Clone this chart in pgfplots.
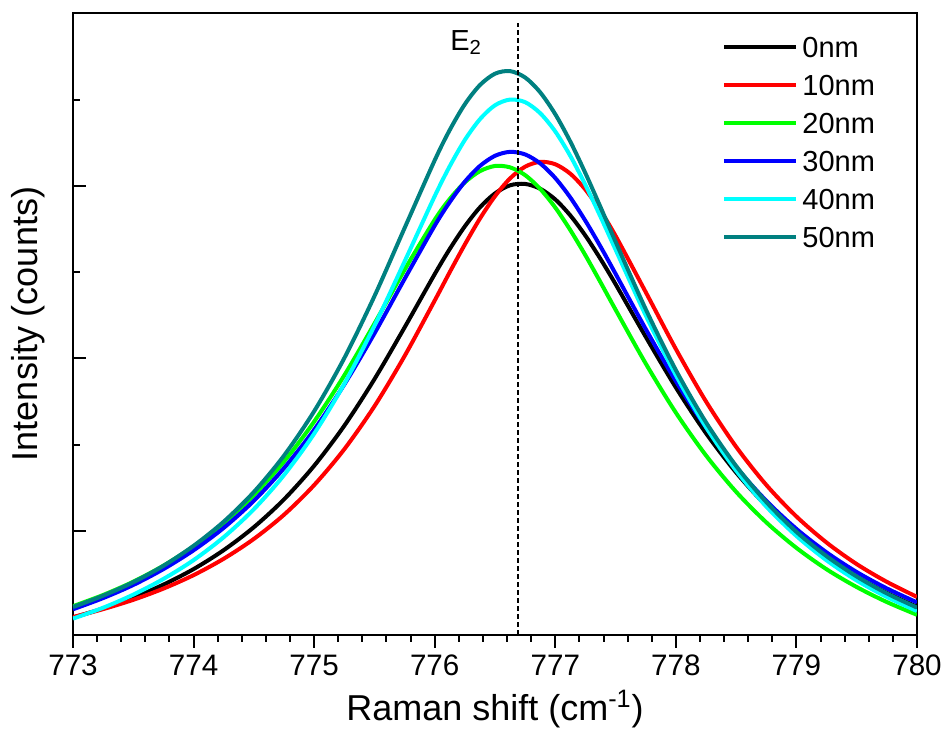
\documentclass[border=0pt]{standalone}
\usepackage{pgfplots}
\pgfplotsset{compat=1.18}
\usepackage{pgfplotstable}
\usepackage{fontspec}
\setmainfont{Liberation Sans}
\definecolor{cgreen}{RGB}{0,255,0}
\definecolor{ccyan}{RGB}{0,255,255}
\definecolor{cteal}{RGB}{0,128,128}
\definecolor{cblue}{RGB}{0,0,255}
\definecolor{cred}{RGB}{255,0,0}

% 0 nm
\pgfplotstableread{
x y
773 0.498
773.25 0.551
773.5 0.614
773.75 0.689
774 0.779
774.25 0.889
774.5 1.022
774.75 1.183
775 1.378
775.25 1.610
775.5 1.880
775.75 2.180
776 2.489
776.125 2.635
776.25 2.766
776.375 2.876
776.5 2.957
776.625 3.004
776.75 3.012
776.875 2.984
777 2.922
777.125 2.829
777.25 2.712
777.375 2.577
777.5 2.431
777.75 2.126
778 1.832
778.25 1.567
778.5 1.339
778.75 1.146
779 0.984
779.25 0.848
779.5 0.735
779.75 0.641
780 0.561
}\dataA

% 10 nm
\pgfplotstableread{
x y
773 0.501
773.25 0.547
773.5 0.601
773.75 0.666
774 0.744
774.25 0.839
774.5 0.954
774.75 1.094
775 1.266
775.25 1.474
775.5 1.723
775.75 2.014
776 2.336
776.125 2.501
776.25 2.661
776.375 2.811
776.5 2.941
776.625 3.044
776.75 3.112
776.875 3.140
777 3.126
777.125 3.071
777.25 2.979
777.375 2.856
777.5 2.711
777.75 2.385
778 2.055
778.25 1.751
778.5 1.488
778.75 1.267
779 1.084
779.25 0.933
779.5 0.808
779.75 0.705
780 0.618
}\dataB

% 20 nm
\pgfplotstableread{
x y
773 0.564
773.25 0.629
773.5 0.706
773.75 0.799
774 0.911
774.25 1.045
774.5 1.208
774.75 1.402
775 1.634
775.25 1.902
775.5 2.202
775.75 2.514
776 2.804
776.125 2.925
776.25 3.021
776.375 3.086
776.5 3.116
776.625 3.108
776.75 3.063
776.875 2.983
777 2.875
777.125 2.744
777.25 2.598
777.375 2.442
777.5 2.283
777.75 1.971
778 1.686
778.25 1.438
778.5 1.227
778.75 1.050
779 0.902
779.25 0.778
779.5 0.675
779.75 0.588
780 0.514
}\dataC

% 30 nm
\pgfplotstableread{
x y
773 0.546
773.25 0.611
773.5 0.687
773.75 0.779
774 0.888
774.25 1.018
774.5 1.175
774.75 1.364
775 1.587
775.25 1.849
775.5 2.145
775.75 2.461
776 2.770
776.125 2.907
776.25 3.025
776.375 3.116
776.5 3.175
776.625 3.198
776.75 3.183
776.875 3.131
777 3.046
777.125 2.933
777.25 2.798
777.375 2.649
777.5 2.491
777.75 2.171
778 1.869
778.25 1.601
778.5 1.370
778.75 1.175
779 1.012
779.25 0.876
779.5 0.762
779.75 0.667
780 0.586
}\dataD

% 40 nm
\pgfplotstableread{
x y
773 0.492
773.25 0.555
773.5 0.631
773.75 0.722
774 0.831
774.25 0.964
774.5 1.126
774.75 1.324
775 1.564
775.25 1.853
775.5 2.189
775.75 2.562
776 2.941
776.125 3.115
776.25 3.267
776.375 3.387
776.5 3.468
776.625 3.501
776.75 3.486
776.875 3.422
777 3.316
777.125 3.174
777.25 3.006
777.375 2.822
777.5 2.631
777.75 2.250
778 1.903
778.25 1.602
778.5 1.350
778.75 1.142
779 0.971
779.25 0.830
779.5 0.713
779.75 0.617
780 0.536
}\dataE

% 50 nm
\pgfplotstableread{
x y
773 0.559
773.25 0.625
773.5 0.703
773.75 0.798
774 0.914
774.25 1.054
774.5 1.226
774.75 1.437
775 1.694
775.25 2.002
775.5 2.361
775.75 2.756
776 3.149
776.125 3.325
776.25 3.474
776.375 3.585
776.5 3.651
776.625 3.666
776.75 3.629
776.875 3.543
777 3.416
777.125 3.257
777.25 3.074
777.375 2.878
777.5 2.677
777.75 2.286
778 1.933
778.25 1.630
778.5 1.377
778.75 1.168
779 0.995
779.25 0.854
779.5 0.736
779.75 0.638
780 0.556
}\dataF

\begin{document}
\begin{tikzpicture}
\begin{axis}[
  width=422pt, height=311pt, scale only axis,
  xmin=773, xmax=780, ymin=0.397, ymax=4.003,
  xtick={773,774,...,780}, minor x tick num=4,
  ytick={1,2,3}, minor ytick={1.5,2.5,3.5}, yticklabels={},
  xtick pos=left, ytick pos=left,
  xtick align=outside, ytick align=inside,
  major tick length=6.5pt, minor tick length=3.5pt,
  axis line style={line width=1pt},
  every tick/.style={line width=1pt, black},
  tick label style={font=\fontsize{14.8}{17}\selectfont},
  /pgf/number format/assume math mode=true,
  /pgf/number format/1000 sep={},
  xlabel={Raman shift (cm\textsuperscript{-1})},
  ylabel={Intensity (counts)},
  label style={font=\fontsize{18}{21}\selectfont},
  xlabel style={at={(axis description cs:0.5,-0.1367)}, anchor=base},
  ylabel style={at={(axis description cs:-0.04265,0.5)}, anchor=base},
  legend style={at={(axis description cs:0.769,0.969)}, anchor=north west,
    draw=none, fill=none, inner sep=0pt, row sep=4.5pt,
    font=\fontsize{14.5}{17}\selectfont,
    nodes={inner sep=2pt, text height=10.5pt, text depth=0pt}},
  legend cell align=left,
  legend image code/.code={\draw[#1, line width=2pt] (0pt,0pt) -- (36pt,0pt);},
]
\addplot[black, line width=2pt, smooth] table[x=x,y=y] {\dataA};
\addlegendentry{0nm}
\addplot[cred, line width=2pt, smooth] table[x=x,y=y] {\dataB};
\addlegendentry{10nm}
\addplot[cgreen, line width=2pt, smooth] table[x=x,y=y] {\dataC};
\addlegendentry{20nm}
\addplot[cblue, line width=2pt, smooth] table[x=x,y=y] {\dataD};
\addlegendentry{30nm}
\addplot[ccyan, line width=2pt, smooth] table[x=x,y=y] {\dataE};
\addlegendentry{40nm}
\addplot[cteal, line width=2pt, smooth] table[x=x,y=y] {\dataF};
\addlegendentry{50nm}
\addplot[black, line width=0.9pt, dash pattern=on 2.5pt off 1.5pt, forget plot] coordinates {(776.69,0.397) (776.69,3.945)};
\node[anchor=base west, inner sep=0pt, font=\fontsize{14.5}{17}\selectfont] at (axis cs:776.126,3.788) {E\textsubscript{2}};
\end{axis}
\pgfresetboundingbox
\useasboundingbox (-36.5pt,-48pt) rectangle (436pt,317.5pt);
\end{tikzpicture}
\end{document}
